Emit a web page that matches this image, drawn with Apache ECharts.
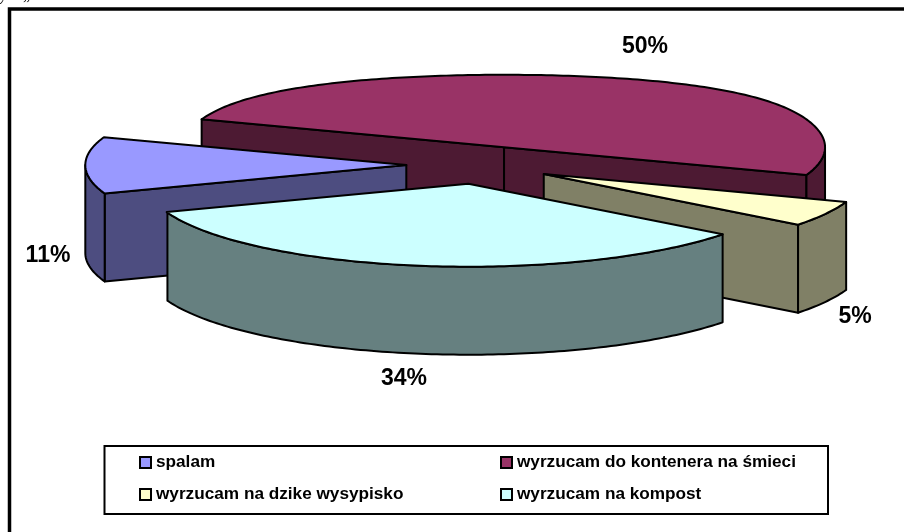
<!DOCTYPE html>
<html>
<head>
<meta charset="utf-8">
<style>html,body{margin:0;padding:0;background:#fff}#chart{width:904px;height:532px}</style>
<script src="https://cdn.jsdelivr.net/npm/echarts@6/dist/echarts.min.js"></script>
</head>
<body>
<div id="chart"></div>
<script>
var categories = ['spalam', 'wyrzucam do kontenera na śmieci', 'wyrzucam na dzike wysypisko', 'wyrzucam na kompost'];
var values = [11, 50, 5, 34];
var topColors = ['#9999FF', '#993366', '#FFFFCC', '#CCFFFF'];
var sideColors = ['#4D4D80', '#4D1A33', '#808066', '#668080'];
// back to front
var drawOrder = [1, 2, 0, 3];

var START = 160;   // angle of first slice, clockwise from 3 o'clock
var CX = 479.5, CY = 165, RX = 321, RY = 83, DEPTH = 88, EXPLODE = 0.228;
var labelAt = [[48, 255], [645, 46], [855, 316], [404, 378]];
var legendAt = [[139, 454], [500, 454], [139, 486], [500, 486]];

var chart = echarts.init(document.getElementById('chart'), null, {renderer: 'canvas'});

// plane coords (unit circle, v towards viewer) -> screen
function project(u, v, down) {
  // far edge of the disc is a bit flatter than the rest
  var y = RY * v;
  if (v < -0.55) y += 24 * (v + 0.55) * (v + 0.55);
  return [CX + RX * u, CY + y + (down ? DEPTH : 0)];
}

function sliceShapes(i) {
  var total = values.reduce(function (a, b) { return a + b; }, 0);
  var before = 0;
  for (var k = 0; k < i; k++) before += values[k];
  var a0 = START + before / total * 360;
  var a1 = a0 + values[i] / total * 360;
  var mid = (a0 + a1) / 2 * Math.PI / 180;
  var ox = EXPLODE * Math.cos(mid), oy = EXPLODE * Math.sin(mid);
  function rim(deg, down) {
    var r = deg * Math.PI / 180;
    return project(ox + Math.cos(r), oy + Math.sin(r), down);
  }
  var apexTop = project(ox, oy, false), apexBottom = project(ox, oy, true);
  var lineStyle = {stroke: '#000', lineWidth: 2, lineJoin: 'round'};
  function poly(points, fill) {
    return {type: 'polygon', shape: {points: points}, style: Object.assign({fill: fill}, lineStyle)};
  }
  var children = [];
  // cut faces, only those turned to the viewer
  [[a0, -90], [a1, 90]].forEach(function (f) {
    if (Math.sin((f[0] + f[1]) * Math.PI / 180) > 0) {
      children.push(poly([apexTop, rim(f[0]), rim(f[0], true), apexBottom], sideColors[i]));
    }
  });
  // outer wall, front half of the rim
  var upper = [], lower = [];
  for (var d = a0; d <= a1 + 0.001; d += 1) {
    if (Math.sin(d * Math.PI / 180) >= -0.001) {
      upper.push(rim(d));
      lower.unshift(rim(d, true));
    }
  }
  if (upper.length > 1) children.push(poly(upper.concat(lower), sideColors[i]));
  // top face
  var top = [apexTop];
  for (var t = a0; t < a1; t += 1) top.push(rim(t));
  top.push(rim(a1));
  children.push(poly(top, topColors[i]));
  // percent label
  children.push({
    type: 'text',
    style: {
      x: labelAt[i][0], y: labelAt[i][1] + 1, text: values[i] + '%',
      fill: '#000', align: 'center', verticalAlign: 'middle',
      font: 'bold 23px "Liberation Sans", Arial, sans-serif'
    }
  });
  return {type: 'group', children: children};
}

var series = drawOrder.map(function (i, order) {
  return {
    type: 'custom',
    name: categories[i],
    coordinateSystem: 'none',
    silent: true,
    z: 2 + order,
    itemStyle: {color: topColors[i]},
    data: [values[i]],
    renderItem: function () { return sliceShapes(i); }
  };
});

var legends = categories.map(function (name, i) {
  return {
    data: [name],
    left: legendAt[i][0],
    top: legendAt[i][1],
    padding: 0,
    itemWidth: 11,
    itemHeight: 11,
    icon: 'rect',
    selectedMode: false,
    z: 10,
    itemStyle: {borderColor: '#000', borderWidth: 2},
    textStyle: {color: '#000', fontSize: 17.2, fontWeight: 'bold', fontFamily: '"Liberation Sans", Arial, sans-serif'}
  };
});

chart.setOption({
  animation: false,
  backgroundColor: '#fff',
  legend: legends,
  graphic: [
    {type: 'polyline', shape: {points: [[9.5, 532], [9.5, 9], [904, 9]]}, style: {fill: null, stroke: '#000', lineWidth: 3.5}},
    {type: 'rect', shape: {x: 104.5, y: 446, width: 723.5, height: 68}, style: {fill: '#fff', stroke: '#000', lineWidth: 2}},
    // tail of the line of text cut off above the chart
    {type: 'text', style: {x: 0, y: 4, text: 'y    „', fill: '#000', align: 'left', verticalAlign: 'bottom', font: 'italic 16px "Liberation Serif", serif'}}
  ],
  series: series
});
</script>
</body>
</html>
